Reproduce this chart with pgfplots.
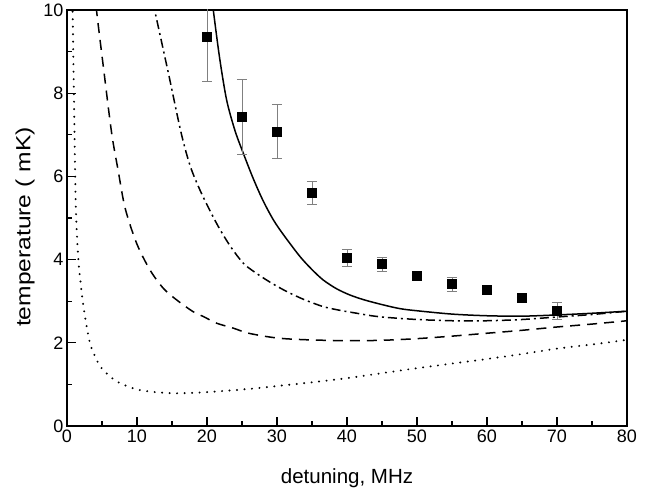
\documentclass[border=0pt]{standalone}
\usepackage{fontspec}
\setmainfont{Liberation Sans}
\usepackage{pgfplots}
\pgfplotsset{compat=1.18}

\begin{document}
\begin{tikzpicture}
\begin{axis}[
  name=ax,
  scale only axis, width=560pt, height=416pt,
  xmin=0, xmax=80, ymin=0, ymax=10,
  xtick={0,10,...,80}, ytick={0,2,...,10},
  minor tick num=1,
  tick align=inside, tick pos=left,
  major tick length=9pt, minor tick length=5pt,
  axis line style={line width=1.2pt},
  every tick/.style={black, line width=1.2pt},
  tick label style={font=\fontsize{18}{21}\selectfont},
  /pgf/number format/assume math mode=true,
  label style={font=\fontsize{20.5}{24}\selectfont},
  xlabel={detuning, MHz},
  ylabel={\scalebox{1.2}[1]{temperature ( mK)}},
  xlabel style={at={(axis description cs:0.5,-0.125)}, anchor=center},
  ylabel style={at={(axis description cs:-0.075,0.478)}, anchor=center},
  every axis plot/.append style={line width=1.5pt, black},
]
% solid
\addplot[smooth, solid] coordinates {
  (20.5,10.6)(20.9,10.0)(21.8,8.85)(22.8,7.84)(24.0,7.1)(25.2,6.55)(26.6,5.95)
  (28.0,5.42)(29.5,4.95)(31.0,4.58)(33.3,4.07)(35.0,3.76)(36.6,3.51)(38.5,3.3)
  (40.4,3.15)(42.5,3.03)(45.2,2.91)(47.6,2.82)(50,2.77)(55,2.69)(60,2.65)
  (65,2.64)(70,2.67)(75,2.71)(80,2.76)};
% dash-dot
\addplot[smooth, dash pattern=on 9pt off 4pt on 2pt off 4pt] coordinates {
  (12.3,10.2)(12.57,9.96)(14.5,8.47)(16.3,7.05)(17.6,6.25)(19,5.67)(20.5,5.15)
  (21.9,4.71)(23.5,4.28)(25.2,3.91)(26.8,3.7)(28.5,3.51)(30.2,3.34)(31.9,3.19)
  (34,3.03)(36.6,2.87)(39,2.78)(41.4,2.71)(43.5,2.65)(45.7,2.61)(50,2.56)
  (55,2.53)(60,2.53)(65,2.56)(70,2.62)(75,2.68)(80,2.76)};
% dashed
\addplot[smooth, dash pattern=on 10pt off 7pt] coordinates {
  (4.0,10.5)(4.24,9.96)(5.19,8.64)(6.38,7.04)(7.3,6.15)(8.3,5.24)(9.95,4.39)
  (11.86,3.75)(13.76,3.31)(15.67,3.03)(18,2.75)(19.5,2.63)(21.4,2.47)(23.8,2.35)
  (25.7,2.24)(28.5,2.15)(31,2.1)(34.7,2.07)(40,2.05)(45,2.06)(50,2.1)(55,2.16)
  (60,2.23)(65,2.3)(70,2.38)(75,2.45)(80,2.53)};
% dotted
\addplot[smooth, line cap=round, line width=2.2pt, dash pattern=on 0pt off 7.5pt] coordinates {
  (0.72,10.5)(0.81,9.86)(1.0,7.84)(1.15,6.2)(1.29,5.1)(1.62,4.0)(2.1,3.2)
  (2.57,2.63)(3.29,1.99)(4.24,1.59)(4.95,1.39)(6.14,1.19)(7.57,1.03)(9.95,0.88)
  (12.3,0.82)(14.7,0.79)(17.1,0.79)(21.4,0.83)(26.6,0.9)(30,0.96)(35,1.05)
  (40,1.15)(45,1.27)(50,1.39)(55,1.5)(60,1.61)(65,1.73)(70,1.86)(75,1.96)(80,2.07)};
% measured points
\addplot[only marks, mark=square*, mark size=4.3pt, black,
  error bars/.cd, y dir=both, y explicit,
  error bar style={gray, line width=0.9pt},
  error mark options={rotate=90, gray, mark size=5pt, line width=0.9pt}]
  coordinates {
  (20,9.35) +- (0,1.06)
  (25,7.43) +- (0,0.91)
  (30,7.07) +- (0,0.65)
  (35,5.60) +- (0,0.27)
  (40,4.04) +- (0,0.21)
  (45,3.89) +- (0,0.17)
  (50,3.61) +- (0,0)
  (55,3.41) +- (0,0.17)
  (60,3.27) +- (0,0)
  (65,3.08) +- (0,0)
  (70,2.76) +- (0,0.21)};
\end{axis}
\pgfresetboundingbox
\path[use as bounding box] ([xshift=-67pt,yshift=-63pt]ax.south west) rectangle ++(657pt,489pt);
\end{tikzpicture}
\end{document}
